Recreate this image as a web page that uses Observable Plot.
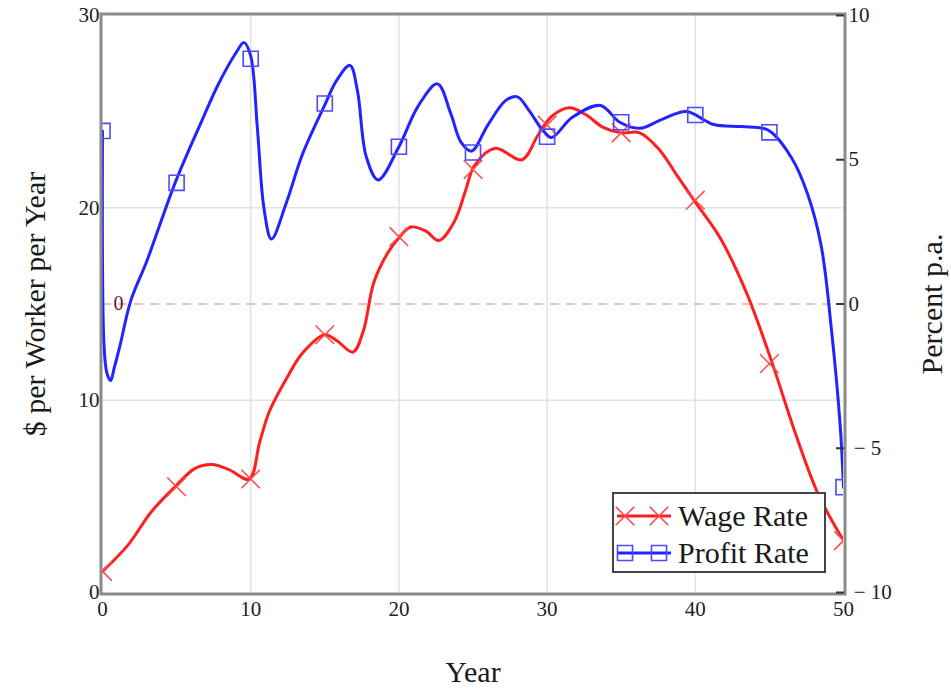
<!DOCTYPE html>
<html>
<head>
<meta charset="utf-8">
<script src="https://cdn.jsdelivr.net/npm/d3@7"></script>
<script src="https://cdn.jsdelivr.net/npm/@observablehq/plot@0.6"></script>
<style>
  html, body { margin: 0; padding: 0; background: #fff; }
  #wrap { position: relative; width: 951px; height: 690px; font-family: "Liberation Serif", serif; }
  #legend { position: absolute; left: 612px; top: 492px; width: 210px; height: 77px;
            border: 2px solid #444; background: #fff; }
  .row { position: absolute; left: 0; height: 36px; width: 210px; }
  .row svg { position: absolute; left: 1px; top: 4px; }
  .row span { position: absolute; left: 64px; top: 0; font-size: 30px; line-height: 36px; color: #1a1a1a; white-space: nowrap; }
</style>
</head>
<body>
<div id="wrap">
  <div id="chart"></div>
  <div id="legend">
    <div class="row" style="top:4px"><svg id="lgWage" width="58" height="28"></svg><span>Wage Rate</span></div>
    <div class="row" style="top:41px"><svg id="lgProfit" width="58" height="28"></svg><span>Profit Rate</span></div>
  </div>
</div>
<script>
// ---- Data ----
const wageYears = [0, 1.7, 3.3, 4.9, 6.25, 7.4, 8.5, 9.9, 10.6, 11.25,
  12.4, 13.5, 15, 15.8, 16.9, 17.6, 18.3, 19.2, 20, 20.8,
  21.8, 22.7, 23.75, 24.5, 25.1, 26.5, 28.3, 29.4, 30.3, 31.5,
  32.6, 33.75, 35, 36.25, 37.6, 38.75, 40, 41.7, 43.5, 45.2,
  46.7, 48.3, 50];
const wageRate = [1.1, 2.45, 4.2, 5.5, 6.45, 6.65, 6.4, 5.9, 7.8, 9.4,
  11.1, 12.45, 13.4, 13.1, 12.5, 13.6, 16.1, 17.6, 18.45, 19.0,
  18.8, 18.3, 19.3, 20.9, 22.2, 23.1, 22.5, 23.8, 24.75, 25.2,
  24.85, 24.2, 23.9, 23.9, 23.0, 21.7, 20.3, 18.4, 15.5, 11.9,
  8.4, 5.1, 2.7];

const profitYears = [0, 0.1, 0.3, 0.55, 0.8, 1.2, 1.9, 3.0, 4.9, 6.7,
  7.8, 9.0, 9.55, 10.0, 10.45, 10.9, 11.4, 12.4, 13.5, 15.0,
  15.8, 16.7, 17.2, 17.8, 18.6, 20.0, 21.3, 22.6, 23.5, 24.2,
  24.9, 26.0, 27.2, 28.0, 28.75, 29.7, 30.3, 31.7, 33.6, 34.9,
  36.25, 37.8, 39.4, 41.25, 43.1, 44.9, 46.5, 47.6, 48.5, 49.2,
  49.77, 50.0];
const profitRate = [6.0, -1.4, -2.4, -2.65, -2.2, -1.4, 0.1, 1.5, 4.2, 6.35,
  7.6, 8.7, 9.06, 8.6, 6.1, 3.3, 2.25, 3.5, 5.2, 6.9,
  7.75, 8.27, 7.4, 5.1, 4.3, 5.45, 6.86, 7.63, 6.6, 5.6,
  5.3, 6.2, 7.05, 7.18, 6.73, 6.03, 5.77, 6.47, 6.88, 6.3,
  6.09, 6.41, 6.67, 6.22, 6.15, 6.03, 5.06, 3.78, 2.0, -0.96,
  -4.17, -6.35];

const markerYears = [0, 5, 10, 15, 20, 25, 30, 35, 40, 45, 50];
const wageMarkers = [1.1, 5.5, 5.9, 13.4, 18.5, 22.0, 24.3, 23.9, 20.4, 11.9, 2.7];
const profitMarkers = [6.0, 4.2, 8.5, 6.95, 5.45, 5.25, 5.8, 6.3, 6.55, 5.95, -6.35];

const xTicks = [0, 10, 20, 30, 40, 50];
const leftTicks = [0, 10, 20, 30];
const pctTicks = [-10, -5, 0, 5, 10];
const xGrid = [10, 20, 30, 40];
const yGrid = [10, 20];
const zeroLine = [0];

const seriesNames = ["Wage Rate", "Profit Rate"];
const yLabelLeft = "$ per Worker per Year";
const yLabelRight = "Percent p.a.";
const xLabel = "Year";

// ---- styling ----
const RED = "#ff1f1f", BLUE = "#2323ff";
const RED_M = "#ff4a4a", BLUE_M = "#4b4bff";

// right axis (percent, -10..10) mapped onto left scale (0..30)
const toLeft = p => (p + 10) * 1.5;
const fromLeft = v => Math.round(v / 1.5 - 10);
const fmtPct = p => p < 0 ? "\u00a0\u2212\u00a0" + Math.abs(p) : String(p);

const wage = wageYears.map((x, i) => ({x, y: wageRate[i]}));
const profit = profitYears.map((x, i) => ({x, y: toLeft(profitRate[i])}));
const wageM = markerYears.map((x, i) => ({x, y: wageMarkers[i]}));
const profitM = markerYears.map((x, i) => ({x, y: toLeft(profitMarkers[i])}));

const chart = Plot.plot({
  width: 951,
  height: 690,
  marginLeft: 102,
  marginRight: 108,
  marginTop: 15,
  marginBottom: 98,
  x: {domain: [0, 50]},
  y: {domain: [0, 30]},
  style: {fontFamily: "Liberation Serif, serif", fontSize: "21px", color: "#222", background: "#fff"},
  marks: [
    Plot.ruleX(xGrid, {stroke: "#e2e2e2", strokeWidth: 1.5}),
    Plot.ruleY(yGrid, {stroke: "#e2e2e2", strokeWidth: 1.5}),
    Plot.ruleY(zeroLine, {y: d => toLeft(d), stroke: "#ffb8b8", strokeWidth: 2, strokeDasharray: "9,7"}),
    Plot.text(zeroLine, {y: d => toLeft(d), frameAnchor: "left", textAnchor: "middle", lineAnchor: "middle", dx: 16, text: d => String(d), fill: "#5a1a1a", fontSize: 20}),
    Plot.line(wage, {x: "x", y: "y", stroke: RED, strokeWidth: 3, curve: "catmull-rom", clip: true}),
    Plot.line(profit, {x: "x", y: "y", stroke: BLUE, strokeWidth: 3, curve: "catmull-rom", clip: true}),
    Plot.dot(wageM, {x: "x", y: "y", symbol: "times", r: 8.5, stroke: RED_M, strokeWidth: 1.5, clip: true}),
    Plot.dot(profitM, {x: "x", y: "y", symbol: "square", r: 8.5, stroke: BLUE_M, strokeWidth: 1.6, fill: "none", clip: true}),
    Plot.frame({stroke: "#8a8a8a", strokeWidth: 3, inset: -1.5}),
    Plot.axisX({ticks: xTicks, tickSize: 0, tickPadding: 9, label: null, tickFormat: d => String(d)}),
    Plot.axisY({anchor: "left", ticks: leftTicks, tickSize: 0, tickPadding: 3, label: null, tickFormat: d => String(d)}),
    Plot.axisY({anchor: "right", ticks: pctTicks.map(toLeft), tickSize: -8, tickPadding: 13, label: null,
      stroke: "#333", strokeWidth: 2, tickFormat: d => fmtPct(fromLeft(d))}),
    Plot.text([xLabel], {frameAnchor: "bottom", textAnchor: "middle", lineAnchor: "middle", dy: 80, fontSize: 30, fill: "#1a1a1a"}),
    Plot.text([yLabelLeft], {frameAnchor: "left", textAnchor: "middle", lineAnchor: "middle", dx: -67, rotate: -90, fontSize: 30, fill: "#1a1a1a"}),
    Plot.text([yLabelRight], {frameAnchor: "right", textAnchor: "middle", lineAnchor: "middle", dx: 89, rotate: -90, fontSize: 30, fill: "#1a1a1a"})
  ]
});
document.getElementById("chart").appendChild(chart);

// ---- legend samples ----
function sample(id, color, mcolor, symbol) {
  const svg = d3.select("#" + id);
  svg.append("line").attr("x1", 2).attr("x2", 56).attr("y1", 14).attr("y2", 14)
    .attr("stroke", color).attr("stroke-width", 3);
  const sym = d3.symbol().type(symbol).size(8.5 * 8.5 * Math.PI)();
  [10, 44].forEach(cx => {
    svg.append("path").attr("d", sym).attr("transform", `translate(${cx},14)`)
      .attr("fill", "none").attr("stroke", mcolor).attr("stroke-width", 1.6);
  });
}
sample("lgWage", RED, RED_M, d3.symbolTimes);
sample("lgProfit", BLUE, BLUE_M, d3.symbolSquare);
</script>
</body>
</html>
